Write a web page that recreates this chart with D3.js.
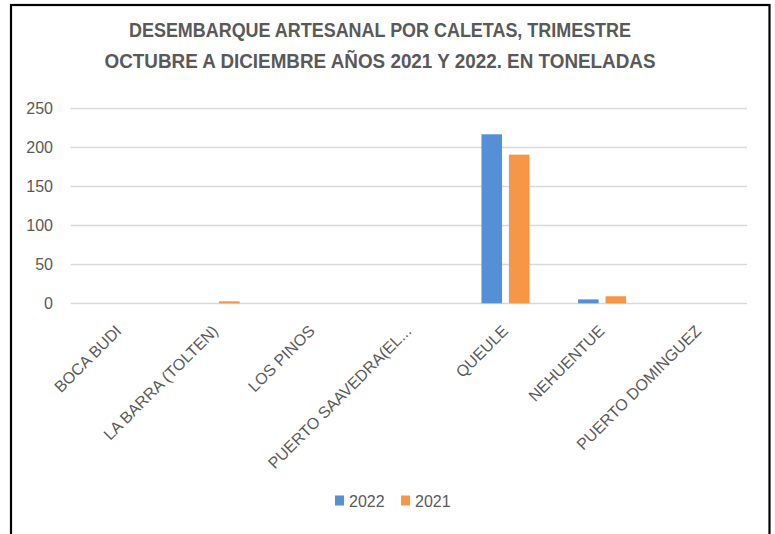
<!DOCTYPE html>
<html>
<head>
<meta charset="utf-8">
<script src="https://cdn.jsdelivr.net/npm/d3@7"></script>
<style>
  html, body { margin: 0; padding: 0; background: #fff; }
  svg { display: block; }
</style>
</head>
<body>
<svg id="chart" width="775" height="534"></svg>
<script>
const titleLines = ["DESEMBARQUE ARTESANAL POR CALETAS, TRIMESTRE", "OCTUBRE A DICIEMBRE AÑOS 2021 Y 2022. EN TONELADAS"];
const categories = ["BOCA BUDI", "LA BARRA (TOLTEN)", "LOS PINOS", "PUERTO SAAVEDRA(EL...", "QUEULE", "NEHUENTUE", "PUERTO DOMINGUEZ"];
const seriesNames = ["2022", "2021"];
const values2022 = [0, 0, 0, 0, 216, 5, 0];
const values2021 = [0, 2.5, 0, 0, 190, 9, 0];
const yTicks = [0, 50, 100, 150, 200, 250];
const colors = ["#5590d6", "#f79646"];

const svg = d3.select("#chart");
const textColor = "#595959";
const font = "'Liberation Sans', Arial, sans-serif";

// frame
svg.append("rect").attr("x", 11).attr("y", 5).attr("width", 758.5).attr("height", 560)
  .attr("fill", "none").attr("stroke", "#000").attr("stroke-width", 2.2);

// title
const titleWidths = [502, 551];
const titleY = [37, 68];
titleLines.forEach((t, i) => {
  svg.append("text").attr("x", 380).attr("y", titleY[i])
    .attr("text-anchor", "middle")
    .attr("font-family", font)
    .attr("font-weight", "bold").attr("font-size", 21).attr("fill", textColor)
    .attr("textLength", titleWidths[i]).attr("lengthAdjust", "spacingAndGlyphs")
    .text(t);
});

const x0 = 70.7, x1 = 747;
const y = d3.scaleLinear().domain([0, 250]).range([303.3, 107.7]);
const x = d3.scaleBand().domain(categories).range([x0, x1]).paddingInner(0).paddingOuter(0);
const xs = d3.scaleBand().domain(seriesNames).range([-24, 24]).paddingInner(0.25).paddingOuter(0);

// gridlines
svg.append("g").selectAll("line").data(yTicks).join("line")
  .attr("x1", x0).attr("x2", x1)
  .attr("y1", d => Math.round(y(d)) + 0.5).attr("y2", d => Math.round(y(d)) + 0.5)
  .attr("stroke", "#d9d9d9").attr("stroke-width", 1.3);

// y axis labels
const yAxis = d3.axisLeft(y).tickValues(yTicks).tickSize(0).tickPadding(0);
const ya = svg.append("g").attr("transform", "translate(53,0)").call(yAxis);
ya.select(".domain").remove();
ya.selectAll("text").attr("font-family", font).attr("font-size", 16).attr("fill", textColor).attr("dy", "0.35em");

// bars
const series = [values2022, values2021];
series.forEach((vals, si) => {
  svg.append("g").selectAll("rect").data(categories).join("rect")
    .attr("x", (c) => x(c) + x.bandwidth() / 2 + xs(seriesNames[si]))
    .attr("width", xs.bandwidth())
    .attr("y", (c, i) => y(vals[i]))
    .attr("height", (c, i) => y(0) - y(vals[i]))
    .attr("fill", colors[si]);
});

// category labels
svg.append("g").selectAll("text").data(categories).join("text")
  .attr("transform", c => `translate(${x(c) + x.bandwidth() / 2 + 3.5},${332}) rotate(-45)`)
  .attr("text-anchor", "end")
  .attr("font-family", font).attr("font-size", 16).attr("fill", textColor)
  .text(c => c);

// legend
const legend = svg.append("g");
const legX = [335, 401];
seriesNames.forEach((s, i) => {
  legend.append("rect").attr("x", legX[i]).attr("y", 495.5).attr("width", 9).attr("height", 10).attr("fill", colors[i]);
  legend.append("text").attr("x", legX[i] + 14).attr("y", 507).attr("font-family", font)
    .attr("font-size", 16).attr("fill", textColor).text(s);
});
</script>
</body>
</html>
